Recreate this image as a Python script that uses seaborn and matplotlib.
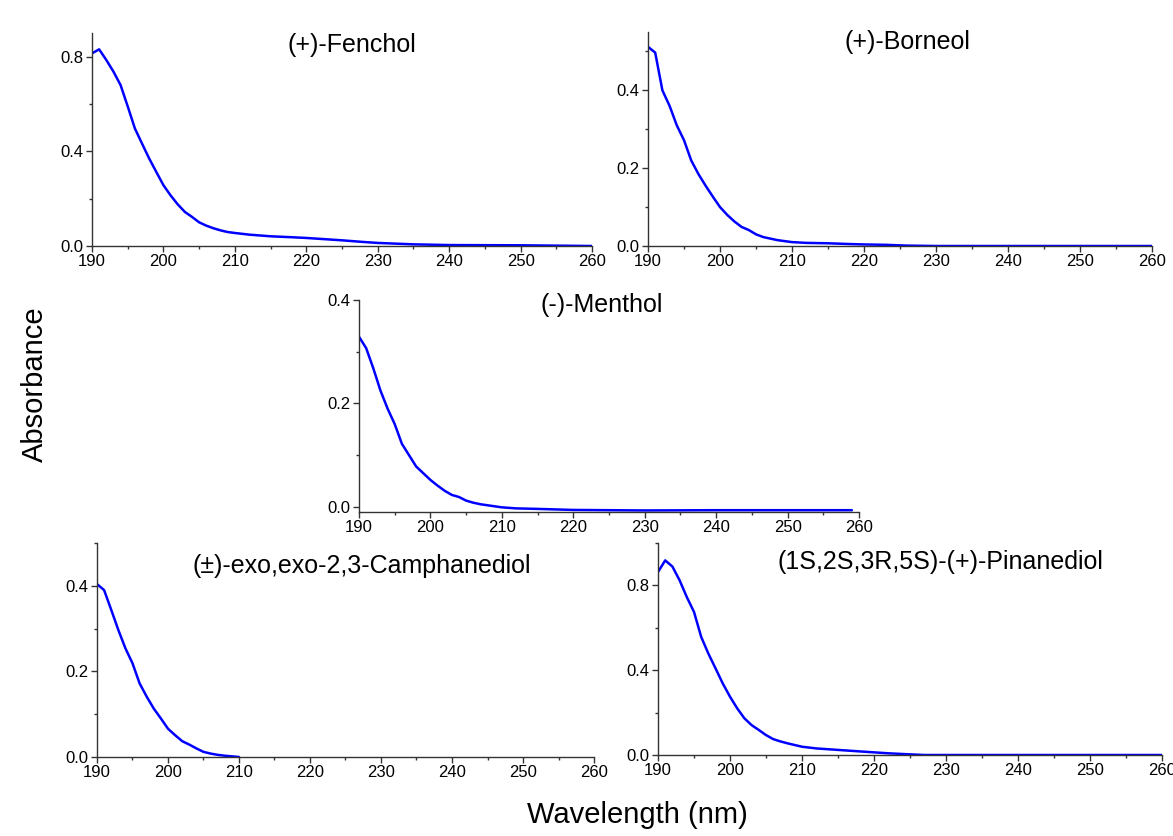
import matplotlib
matplotlib.use("Agg")
import matplotlib.pyplot as plt
import seaborn as sns
import pandas as pd
from matplotlib.ticker import MultipleLocator, FormatStrFormatter

sns.set_style("ticks")
plt.rcParams['font.family'] = ['Liberation Sans', 'DejaVu Sans']

# ---- data ----
fenchol_wl = [190, 191, 192, 193, 194, 195, 196, 197, 198, 199, 200, 201, 202, 203, 204, 205,
              206, 207, 208, 209, 210, 212, 215, 218, 220, 222, 225, 228, 230, 235, 240, 250, 260]
fenchol_abs = [0.814, 0.831, 0.786, 0.737, 0.68, 0.59, 0.497, 0.433, 0.37, 0.313, 0.257, 0.214,
               0.176, 0.144, 0.123, 0.10, 0.086, 0.075, 0.066, 0.059, 0.055, 0.048, 0.041, 0.037,
               0.034, 0.030, 0.024, 0.017, 0.013, 0.007, 0.004, 0.003, 0.0]

borneol_wl = [190, 191, 192, 193, 194, 195, 196, 197, 198, 199, 200, 201, 202, 203, 204, 205,
              206, 207, 208, 210, 212, 215, 218, 220, 223, 226, 230, 260]
borneol_abs = [0.512, 0.497, 0.40, 0.36, 0.31, 0.272, 0.22, 0.185, 0.155, 0.127, 0.10, 0.08,
               0.063, 0.049, 0.041, 0.030, 0.023, 0.019, 0.015, 0.010, 0.008, 0.007, 0.005,
               0.004, 0.003, 0.001, 0.0, 0.0]

menthol_wl = [190, 191, 192, 193, 194, 195, 196, 197, 198, 199, 200, 201, 202, 203, 204, 205,
              206, 207, 208, 210, 212, 215, 220, 225, 230, 240, 250, 259]
menthol_abs = [0.329, 0.307, 0.268, 0.225, 0.19, 0.16, 0.122, 0.10, 0.078, 0.065, 0.052, 0.041,
               0.031, 0.023, 0.019, 0.012, 0.008, 0.005, 0.003, -0.001, -0.003, -0.004, -0.006,
               -0.0065, -0.007, -0.0065, -0.0065, -0.0065]

camph_wl = [190, 191, 192, 193, 194, 195, 196, 197, 198, 199, 200, 201, 202, 203, 204, 205,
            206, 207, 208, 209, 210]
camph_abs = [0.404, 0.39, 0.344, 0.297, 0.254, 0.219, 0.172, 0.141, 0.113, 0.09, 0.066, 0.051,
             0.037, 0.029, 0.02, 0.012, 0.008, 0.005, 0.003, 0.0015, 0.0]

pinane_wl = [190, 191, 192, 193, 194, 195, 196, 197, 198, 199, 200, 201, 202, 203, 204, 205,
             206, 207, 208, 209, 210, 212, 215, 218, 220, 222, 225, 227, 260]
pinane_abs = [0.863, 0.918, 0.889, 0.824, 0.745, 0.675, 0.557, 0.478, 0.408, 0.337, 0.275, 0.22,
              0.173, 0.141, 0.118, 0.094, 0.075, 0.064, 0.055, 0.047, 0.039, 0.031, 0.024, 0.017,
              0.0125, 0.008, 0.003, 0.0, 0.0]

titles = ["(+)-Fenchol", "(+)-Borneol", "(-)-Menthol",
          "(\u00b1)-exo,exo-2,3-Camphanediol", "(1S,2S,3R,5S)-(+)-Pinanediol"]

W, H = 1173, 836
fig = plt.figure(figsize=(W / 100, H / 100), dpi=100)

def box(l, t, r, b):
    return [l / W, (H - b) / H, (r - l) / W, (b - t) / H]

panels = [
    dict(wl=fenchol_wl, ab=fenchol_abs, rect=box(92, 33, 592, 246), ylim=(0, 0.9),
         major=0.4, minor=0.2, tx=0.52, ty=0.944),
    dict(wl=borneol_wl, ab=borneol_abs, rect=box(648, 32, 1152, 246), ylim=(0, 0.55),
         major=0.2, minor=0.1, tx=0.514, ty=0.953),
    dict(wl=menthol_wl, ab=menthol_abs, rect=box(359, 300, 859, 512), ylim=(-0.01, 0.4),
         major=0.2, minor=0.1, tx=0.486, ty=0.976),
    dict(wl=camph_wl, ab=camph_abs, rect=box(97, 543, 594, 757), ylim=(0, 0.5),
         major=0.2, minor=0.1, tx=0.533, ty=0.893),
    dict(wl=pinane_wl, ab=pinane_abs, rect=box(658, 543, 1162, 755), ylim=(0, 1.0),
         major=0.4, minor=0.2, tx=0.56, ty=0.91),
]

for p, title in zip(panels, titles):
    ax = fig.add_axes(p["rect"])
    df = pd.DataFrame({"Wavelength": p["wl"], "Absorbance": p["ab"]})
    sns.lineplot(data=df, x="Wavelength", y="Absorbance", ax=ax, color="#0000FF", linewidth=1.8)
    ax.set_xlim(190, 260)
    ax.set_ylim(*p["ylim"])
    ax.xaxis.set_major_locator(MultipleLocator(10))
    ax.xaxis.set_minor_locator(MultipleLocator(5))
    ax.yaxis.set_major_locator(MultipleLocator(p["major"]))
    ax.yaxis.set_minor_locator(MultipleLocator(p["minor"]))
    ax.yaxis.set_major_formatter(FormatStrFormatter("%.1f"))
    ax.set_xlabel("")
    ax.set_ylabel("")
    sns.despine(ax=ax)
    for s in ("left", "bottom"):
        ax.spines[s].set_color("#333333")
        ax.spines[s].set_linewidth(1.0)
    ax.tick_params(which="major", direction="out", length=4, width=1, color="#333333",
                   labelsize=12, pad=2, labelcolor="black")
    ax.tick_params(which="minor", direction="out", length=2.5, width=1, color="#333333")
    ax.patch.set_alpha(0)
    ax.text(p["tx"], p["ty"], title, transform=ax.transAxes, ha="center", va="center",
            fontsize=18, color="black")

fig.text(35 / W, 1 - 384 / H, "Absorbance", rotation=90, ha="center", va="center",
         fontsize=21, color="black")
fig.text(637 / W, 1 - 815 / H, "Wavelength (nm)", ha="center", va="center",
         fontsize=21, color="black")

fig.savefig("out.png", dpi=100)
